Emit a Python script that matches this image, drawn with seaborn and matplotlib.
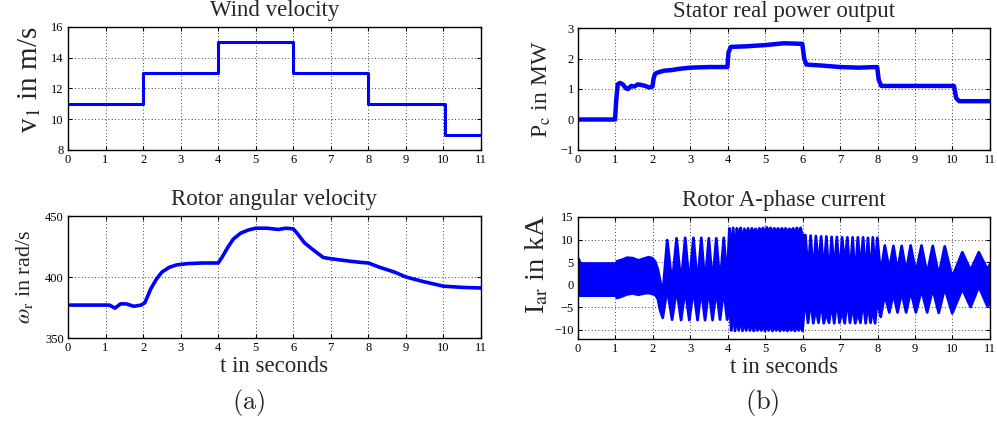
import matplotlib
matplotlib.use("Agg")
import matplotlib.pyplot as plt
import seaborn as sns
import pandas as pd

# ---- data ----
wind_t = [0, 2, 4, 6, 8, 10.05, 11]
wind_v = [11, 13, 15, 13, 11, 9, 9]

power_t = [0, 0.5, 0.99, 1.02, 1.06, 1.12, 1.2, 1.28, 1.34, 1.42, 1.5, 1.6, 1.7, 1.8,
           1.9, 1.99, 2.02, 2.06, 2.15, 2.3, 2.5, 2.7, 3.0, 3.5, 3.99, 4.02, 4.08, 4.5,
           5.0, 5.5, 5.99, 6.04, 6.1, 6.5, 7.0, 7.5, 7.99, 8.03, 8.1, 9.0, 10.04, 10.1,
           10.18, 11.0]
power_v = [0.0, 0.0, 0.0, 0.6, 1.15, 1.2, 1.15, 1.02, 1.0, 1.1, 1.08, 1.15, 1.13, 1.1,
           1.05, 1.08, 1.35, 1.5, 1.55, 1.6, 1.62, 1.66, 1.7, 1.72, 1.72, 2.2, 2.38, 2.4,
           2.44, 2.5, 2.48, 2.0, 1.8, 1.77, 1.72, 1.7, 1.72, 1.3, 1.1, 1.1, 1.1, 0.7,
           0.6, 0.6]

speed_t = [0, 1.0, 1.1, 1.25, 1.4, 1.55, 1.75, 1.95, 2.05, 2.2, 2.35, 2.5, 2.7, 2.9,
           3.2, 3.6, 4.0, 4.1, 4.25, 4.4, 4.6, 4.8, 5.0, 5.3, 5.6, 5.8, 6.0, 6.1, 6.3,
           6.5, 6.8, 7.0, 7.5, 7.8, 8.0, 8.3, 8.7, 9.0, 9.5, 10.0, 10.5, 11.0]
speed_v = [377, 377, 377, 374.5, 378, 378, 376, 377, 379, 390, 398, 404, 408, 410,
           411, 411.5, 411.5, 416, 424, 431, 436, 438.5, 440, 440, 439, 440, 439.5,
           436, 428, 423, 416, 415, 413, 412, 411.5, 408, 404, 400, 396, 392.5, 391.5,
           391]

# rotor current: envelope vertices (top / bottom edge of the blue band)
cur_t = [0.0, 0.02, 0.05, 1.0, 1.03, 1.15, 1.3, 1.45, 1.6, 1.75, 1.87, 1.97, 2.05,
         2.12, 2.18, 2.25,
         2.37, 2.50, 2.62, 2.74, 2.85, 2.96, 3.07, 3.18, 3.28, 3.38, 3.48, 3.58, 3.68,
         3.78, 3.88, 3.97,
         4.03, 4.08, 4.13, 4.18, 4.23, 4.28, 4.33, 4.38, 4.43, 4.48, 4.53, 4.58, 4.63,
         4.68, 4.73, 4.78, 4.83, 4.88, 4.93, 4.98, 5.03, 5.08, 5.13, 5.18, 5.23, 5.28,
         5.33, 5.38, 5.43, 5.48, 5.53, 5.58, 5.63, 5.68, 5.73, 5.78, 5.83, 5.88, 5.93,
         5.98,
         6.06, 6.13, 6.20, 6.27, 6.34, 6.41, 6.48, 6.55, 6.62, 6.69, 6.76, 6.83, 6.90,
         6.97, 7.04, 7.11, 7.18, 7.25, 7.32, 7.39, 7.46, 7.53, 7.60, 7.67, 7.73, 7.80,
         7.86, 7.92, 7.98, 8.07,
         8.18, 8.30, 8.41, 8.52, 8.63, 8.75, 8.87, 9.01, 9.16, 9.31, 9.46, 9.62, 9.78,
         9.98, 10.25, 10.47, 10.69, 10.92, 11.0]
cur_top = [5.9, 5.5, 4.8, 4.8, 5.3, 5.6, 6.1, 6.0, 5.5, 5.9, 6.2, 6.0, 5.2, 3.5, 1.0,
           -2.0,
           10.0, 0.3, 10.4, 0.3, 10.5, 0.2, 10.5, 0.3, 10.5, 0.3, 10.4, 0.4, 10.4, 0.5,
           10.5, 1.0,
           12.6, 8.0, 12.7, 7.0, 12.6, 10.5, 12.7, 9.5, 12.5, 11.0, 12.6, 10.5, 12.6,
           11.5, 12.5, 11.2, 12.6, 11.8, 12.7, 11.4, 12.8, 11.8, 12.7, 11.5, 12.6, 11.9,
           12.6, 11.6, 12.6, 11.8, 12.6, 11.5, 12.5, 11.8, 12.6, 11.6, 12.7, 11.7, 12.7,
           11.0,
           11.1, 3.0, 11.0, 2.0, 10.9, 4.0, 10.8, 2.5, 10.8, 1.5, 10.7, 3.0, 10.7, 2.0,
           10.6, 4.5, 10.6, 2.0, 10.6, 1.5, 10.6, 3.5, 10.6, 2.0, 10.5, 1.5, 10.6, 3.0,
           10.5, 2.5,
           8.8, 3.5, 8.7, 3.2, 8.7, 3.0, 8.8, 2.8, 8.8, 2.5, 8.7, 2.2, 8.6, 1.8, 7.3,
           3.3, 7.3, 3.5, 4.8]
cur_bot = [-2.3, -2.3, -2.3, -2.3, -2.8, -2.5, -2.0, -1.8, -2.1, -1.8, -1.7, -1.9, -2.1,
           -3.0, -5.5, -7.2,
           -0.8, -7.6, -0.8, -7.7, -0.9, -7.7, -0.8, -7.7, -0.9, -7.7, -0.8, -7.7, -0.9,
           -7.6, -0.8, -7.6,
           -4.0, -10.0, -5.5, -10.1, -7.0, -10.0, -6.5, -10.1, -8.0, -10.0, -7.5, -10.0,
           -8.5, -10.1, -8.0, -10.0, -8.8, -10.0, -8.5, -10.1, -8.8, -10.0, -8.6, -10.1,
           -9.0, -10.0, -8.7, -10.1, -9.0, -10.0, -8.8, -10.1, -9.0, -10.0, -8.8, -10.1,
           -9.0, -10.0, -8.8, -10.1,
           -2.5, -8.3, -3.0, -8.4, -5.0, -8.3, -3.5, -8.4, -6.0, -8.3, -4.0, -8.4, -3.0,
           -8.3, -5.5, -8.4, -3.0, -8.3, -4.5, -8.4, -6.0, -8.3, -3.0, -8.4, -4.0, -8.3,
           -5.0, -8.4, -3.0, -7.0,
           -2.0, -6.0, -1.8, -6.0, -1.5, -6.0, -1.3, -6.0, -1.0, -6.0, -0.8, -6.1, -0.6,
           -6.2, -0.8, -4.8, -0.3, -4.6, -4.0]

sns.set_style("ticks")
plt.rcParams["font.family"] = ["Liberation Serif", "DejaVu Serif"]
plt.rcParams["mathtext.fontset"] = "stix"

BLUE = "#0000ff"


def style_axes(ax, ylim, yticks, title, ylabel, label_size, label_xy, xlabel=None):
    ax.set_xlim(0, 11)
    ax.set_xticks(range(12))
    ax.set_ylim(*ylim)
    ax.set_yticks(yticks)
    ax.grid(True, linestyle=(0, (1, 3)), color="black", linewidth=0.6)
    ax.tick_params(direction="in", top=True, right=True, length=3, width=0.8,
                   labelsize=9, pad=3, colors="black")
    for s in ax.spines.values():
        s.set_linewidth(1.0)
        s.set_color("black")
    ax.set_title(title, fontsize=16.5, pad=8)
    ax.set_ylabel(ylabel, fontsize=label_size)
    ax.yaxis.set_label_coords(*label_xy)
    if xlabel:
        ax.set_xlabel(xlabel, fontsize=16.5, labelpad=1)
    else:
        ax.set_xlabel("")


fig = plt.figure(figsize=(9.97, 4.23), dpi=100)
ax1 = fig.add_axes([0.0682, 0.6454, 0.4142, 0.2908])
ax2 = fig.add_axes([0.5797, 0.6454, 0.4132, 0.2884])
ax3 = fig.add_axes([0.0682, 0.2009, 0.4142, 0.2884])
ax4 = fig.add_axes([0.5797, 0.1986, 0.4132, 0.2884])

sns.lineplot(x=wind_t, y=wind_v, ax=ax1, color=BLUE, linewidth=2.2,
             drawstyle="steps-post", estimator=None)
style_axes(ax1, (8, 16), range(8, 17, 2), "Wind velocity",
           r"v$_1$ in m/s", 21, (-0.06, 0.57))

power = pd.DataFrame({"t": power_t, "P": power_v})
sns.lineplot(data=power, x="t", y="P", ax=ax2, color=BLUE, linewidth=3.2,
             estimator=None, sort=False)
style_axes(ax2, (-1, 3), range(-1, 4), "Stator real power output",
           r"P$_\mathrm{c}$ in MW", 17, (-0.06, 0.5))

speed = pd.DataFrame({"t": speed_t, "w": speed_v})
sns.lineplot(data=speed, x="t", y="w", ax=ax3, color=BLUE, linewidth=2.6,
             estimator=None, sort=False)
style_axes(ax3, (350, 450), [350, 400, 450], "Rotor angular velocity",
           r"$\omega_\mathrm{r}$ in rad/s", 16, (-0.08, 0.5), "t in seconds")

ax4.fill_between(cur_t, cur_bot, cur_top, color=BLUE, edgecolor=BLUE, linewidth=2.0)
style_axes(ax4, (-12, 15), range(-10, 16, 5), "Rotor A-phase current",
           r"I$_\mathrm{ar}$ in kA", 20.5, (-0.068, 0.61), "t in seconds")

fig.text(249 / 997, 1 - 402 / 423, r"$\mathrm{(a)}$", math_fontfamily="cm",
         fontsize=19, ha="center", va="center")
fig.text(762 / 997, 1 - 402 / 423, r"$\mathrm{(b)}$", math_fontfamily="cm",
         fontsize=19, ha="center", va="center")

fig.savefig("out.png", dpi=100)
